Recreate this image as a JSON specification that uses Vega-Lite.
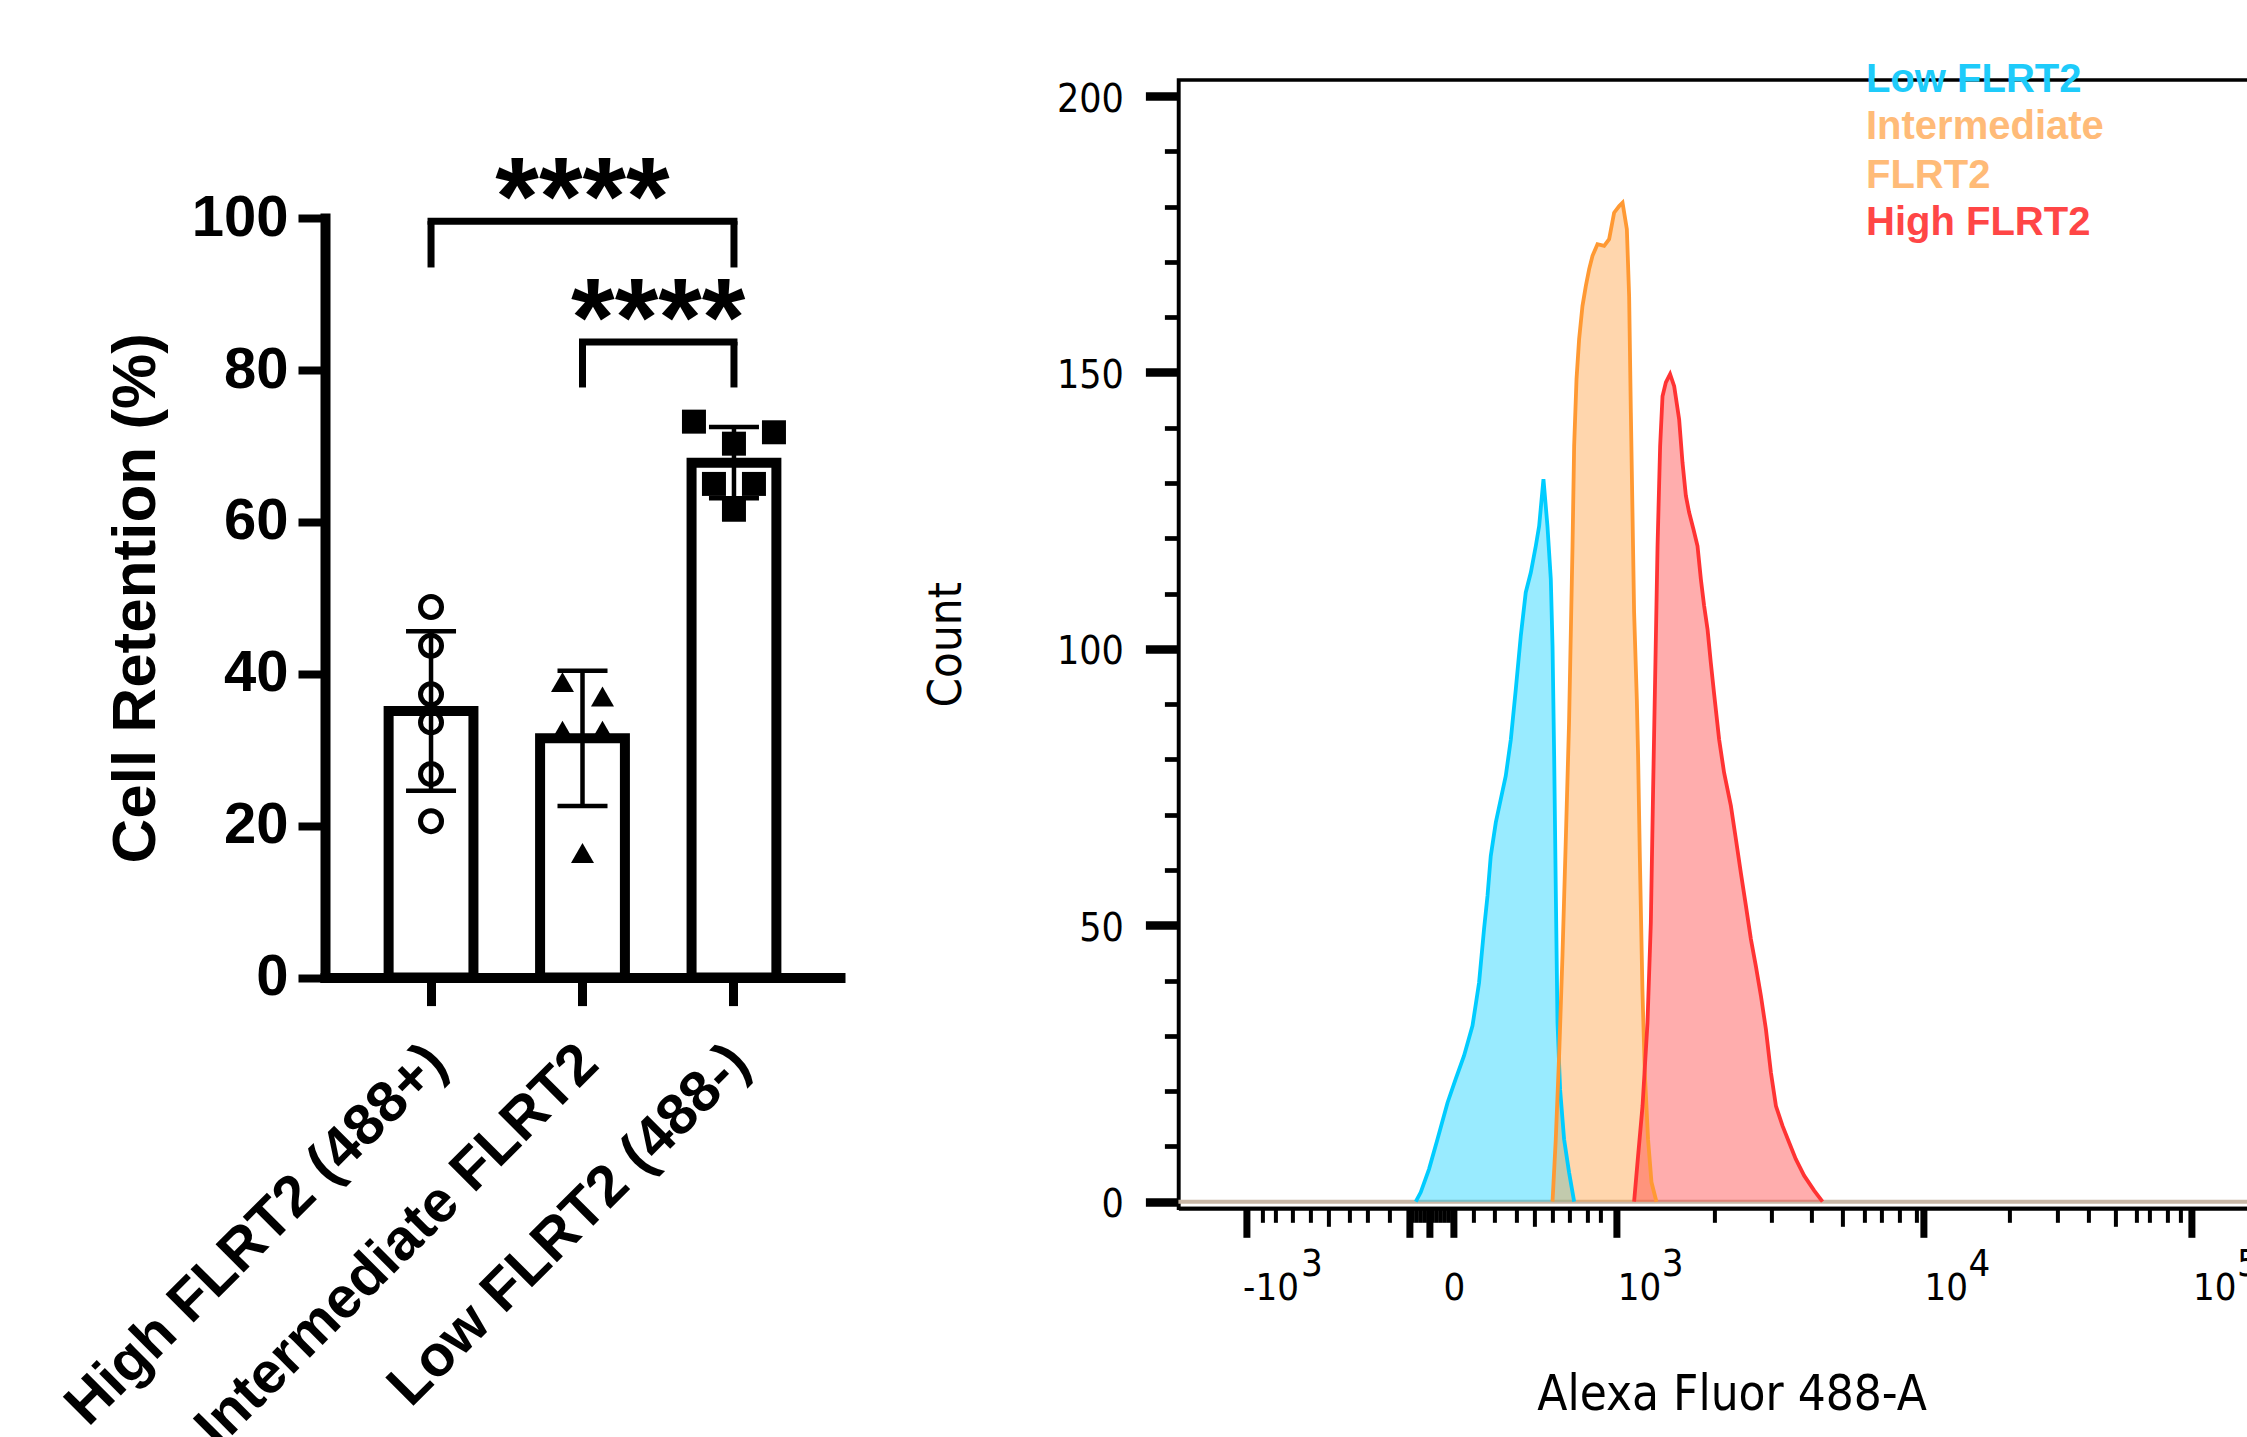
{
  "$schema": "https://vega.github.io/schema/vega-lite/v6.json",
  "background": "white",
  "autosize": {"type": "pad"},
  "padding": {"left": 55, "top": 60, "right": 0, "bottom": 0},
  "bounds": "flush",
  "spacing": 338.4,
  "config": {
    "font": "Liberation Sans",
    "view": {"stroke": null},
    "axis": {"domainColor": "black", "tickColor": "black", "labelColor": "black", "titleColor": "black", "grid": false}
  },
  "datasets": {
    "bars": [
      {"group": "High FLRT2 (488+)", "mean": 35.1, "lo": 24.6, "hi": 45.6},
      {"group": "Intermediate FLRT2", "mean": 31.5, "lo": 22.6, "hi": 40.4},
      {"group": "Low FLRT2 (488-)", "mean": 67.8, "lo": 63.1, "hi": 72.5}
    ],
    "points": [
      {"group": "High FLRT2 (488+)", "spread": 0, "value": 48.8},
      {"group": "High FLRT2 (488+)", "spread": 0, "value": 43.7},
      {"group": "High FLRT2 (488+)", "spread": 0, "value": 37.3},
      {"group": "High FLRT2 (488+)", "spread": 0, "value": 33.6},
      {"group": "High FLRT2 (488+)", "spread": 0, "value": 26.8},
      {"group": "High FLRT2 (488+)", "spread": 0, "value": 20.6},
      {"group": "Intermediate FLRT2", "spread": -1, "value": 38.9},
      {"group": "Intermediate FLRT2", "spread": 1, "value": 37.0},
      {"group": "Intermediate FLRT2", "spread": -1, "value": 32.5},
      {"group": "Intermediate FLRT2", "spread": 1, "value": 32.5},
      {"group": "Intermediate FLRT2", "spread": 0, "value": 16.4},
      {"group": "Low FLRT2 (488-)", "spread": -2, "value": 73.2},
      {"group": "Low FLRT2 (488-)", "spread": 2, "value": 71.8},
      {"group": "Low FLRT2 (488-)", "spread": 0, "value": 70.3},
      {"group": "Low FLRT2 (488-)", "spread": -1, "value": 65.0},
      {"group": "Low FLRT2 (488-)", "spread": 1, "value": 65.0},
      {"group": "Low FLRT2 (488-)", "spread": 0, "value": 61.6}
    ],
    "brackets": [
      {"from": "High FLRT2 (488+)", "to": "Low FLRT2 (488-)", "anchor": "Intermediate FLRT2", "half": 0, "bar": 99.6, "leg": 93.5, "label": "****"},
      {"from": "Intermediate FLRT2", "to": "Low FLRT2 (488-)", "anchor": "Intermediate FLRT2", "half": 0.5, "bar": 83.7, "leg": 77.7, "label": "****"}
    ],
    "hist": [
      {"series": "Low FLRT2", "channel": 219.7, "count": 0},
      {"series": "Low FLRT2", "channel": 224.3, "count": 1.7},
      {"series": "Low FLRT2", "channel": 232.0, "count": 5.9},
      {"series": "Low FLRT2", "channel": 239.8, "count": 11.3},
      {"series": "Low FLRT2", "channel": 249.1, "count": 17.9},
      {"series": "Low FLRT2", "channel": 256.7, "count": 22.2},
      {"series": "Low FLRT2", "channel": 264.4, "count": 26.4},
      {"series": "Low FLRT2", "channel": 272.2, "count": 31.8},
      {"series": "Low FLRT2", "channel": 278.3, "count": 39.6},
      {"series": "Low FLRT2", "channel": 282.9, "count": 49.3},
      {"series": "Low FLRT2", "channel": 286.1, "count": 55.3},
      {"series": "Low FLRT2", "channel": 289.1, "count": 62.5},
      {"series": "Low FLRT2", "channel": 293.8, "count": 68.6},
      {"series": "Low FLRT2", "channel": 298.4, "count": 72.8},
      {"series": "Low FLRT2", "channel": 303.0, "count": 77.0},
      {"series": "Low FLRT2", "channel": 307.7, "count": 83.6},
      {"series": "Low FLRT2", "channel": 312.3, "count": 92.7},
      {"series": "Low FLRT2", "channel": 316.9, "count": 102.3},
      {"series": "Low FLRT2", "channel": 321.5, "count": 110.2},
      {"series": "Low FLRT2", "channel": 326.2, "count": 113.8},
      {"series": "Low FLRT2", "channel": 330.8, "count": 118.6},
      {"series": "Low FLRT2", "channel": 333.9, "count": 122.2},
      {"series": "Low FLRT2", "channel": 337.9, "count": 130.7},
      {"series": "Low FLRT2", "channel": 341.6, "count": 122.2},
      {"series": "Low FLRT2", "channel": 344.7, "count": 112.6},
      {"series": "Low FLRT2", "channel": 346.3, "count": 100.5},
      {"series": "Low FLRT2", "channel": 347.8, "count": 80.6},
      {"series": "Low FLRT2", "channel": 349.3, "count": 56.5},
      {"series": "Low FLRT2", "channel": 350.9, "count": 32.4},
      {"series": "Low FLRT2", "channel": 353.3, "count": 20.3},
      {"series": "Low FLRT2", "channel": 357.0, "count": 11.3},
      {"series": "Low FLRT2", "channel": 361.6, "count": 5.3},
      {"series": "Low FLRT2", "channel": 366.3, "count": 0},
      {"series": "Intermediate FLRT2", "channel": 346.3, "count": 0},
      {"series": "Intermediate FLRT2", "channel": 349.3, "count": 11.3},
      {"series": "Intermediate FLRT2", "channel": 352.4, "count": 26.4},
      {"series": "Intermediate FLRT2", "channel": 355.5, "count": 44.5},
      {"series": "Intermediate FLRT2", "channel": 358.6, "count": 65.6},
      {"series": "Intermediate FLRT2", "channel": 361.6, "count": 86.7},
      {"series": "Intermediate FLRT2", "channel": 364.8, "count": 118.6},
      {"series": "Intermediate FLRT2", "channel": 366.3, "count": 136.7},
      {"series": "Intermediate FLRT2", "channel": 368.5, "count": 148.8},
      {"series": "Intermediate FLRT2", "channel": 370.9, "count": 156.0},
      {"series": "Intermediate FLRT2", "channel": 374.0, "count": 162.0},
      {"series": "Intermediate FLRT2", "channel": 377.1, "count": 165.6},
      {"series": "Intermediate FLRT2", "channel": 380.2, "count": 168.7},
      {"series": "Intermediate FLRT2", "channel": 383.3, "count": 171.1},
      {"series": "Intermediate FLRT2", "channel": 387.9, "count": 173.2},
      {"series": "Intermediate FLRT2", "channel": 394.1, "count": 172.9},
      {"series": "Intermediate FLRT2", "channel": 398.7, "count": 174.1},
      {"series": "Intermediate FLRT2", "channel": 403.3, "count": 178.9},
      {"series": "Intermediate FLRT2", "channel": 408.0, "count": 180.1},
      {"series": "Intermediate FLRT2", "channel": 411.1, "count": 180.7},
      {"series": "Intermediate FLRT2", "channel": 415.1, "count": 175.9},
      {"series": "Intermediate FLRT2", "channel": 417.2, "count": 163.8},
      {"series": "Intermediate FLRT2", "channel": 418.8, "count": 142.7},
      {"series": "Intermediate FLRT2", "channel": 420.3, "count": 124.7},
      {"series": "Intermediate FLRT2", "channel": 421.8, "count": 106.6},
      {"series": "Intermediate FLRT2", "channel": 424.3, "count": 91.0},
      {"series": "Intermediate FLRT2", "channel": 425.5, "count": 80.6},
      {"series": "Intermediate FLRT2", "channel": 427.1, "count": 62.5},
      {"series": "Intermediate FLRT2", "channel": 429.5, "count": 38.4},
      {"series": "Intermediate FLRT2", "channel": 431.7, "count": 23.4},
      {"series": "Intermediate FLRT2", "channel": 434.7, "count": 11.3},
      {"series": "Intermediate FLRT2", "channel": 437.9, "count": 3.5},
      {"series": "Intermediate FLRT2", "channel": 442.5, "count": 0},
      {"series": "High FLRT2", "channel": 421.8, "count": 0},
      {"series": "High FLRT2", "channel": 425.5, "count": 8.3},
      {"series": "High FLRT2", "channel": 429.6, "count": 17.3},
      {"series": "High FLRT2", "channel": 434.2, "count": 32.4},
      {"series": "High FLRT2", "channel": 437.3, "count": 50.5},
      {"series": "High FLRT2", "channel": 439.4, "count": 74.6},
      {"series": "High FLRT2", "channel": 441.0, "count": 91.8},
      {"series": "High FLRT2", "channel": 443.5, "count": 118.6},
      {"series": "High FLRT2", "channel": 445.9, "count": 136.7},
      {"series": "High FLRT2", "channel": 448.1, "count": 145.7},
      {"series": "High FLRT2", "channel": 451.2, "count": 148.2},
      {"series": "High FLRT2", "channel": 455.1, "count": 149.7},
      {"series": "High FLRT2", "channel": 458.9, "count": 147.5},
      {"series": "High FLRT2", "channel": 463.5, "count": 141.5},
      {"series": "High FLRT2", "channel": 466.6, "count": 133.7},
      {"series": "High FLRT2", "channel": 469.7, "count": 127.7},
      {"series": "High FLRT2", "channel": 472.7, "count": 124.7},
      {"series": "High FLRT2", "channel": 476.8, "count": 121.6},
      {"series": "High FLRT2", "channel": 480.5, "count": 118.6},
      {"series": "High FLRT2", "channel": 483.6, "count": 112.6},
      {"series": "High FLRT2", "channel": 486.6, "count": 107.8},
      {"series": "High FLRT2", "channel": 489.8, "count": 103.5},
      {"series": "High FLRT2", "channel": 492.8, "count": 97.5},
      {"series": "High FLRT2", "channel": 495.9, "count": 91.8},
      {"series": "High FLRT2", "channel": 500.5, "count": 83.6},
      {"series": "High FLRT2", "channel": 505.1, "count": 77.6},
      {"series": "High FLRT2", "channel": 511.4, "count": 71.6},
      {"series": "High FLRT2", "channel": 516.0, "count": 65.6},
      {"series": "High FLRT2", "channel": 520.6, "count": 59.5},
      {"series": "High FLRT2", "channel": 525.3, "count": 53.5},
      {"series": "High FLRT2", "channel": 529.9, "count": 47.5},
      {"series": "High FLRT2", "channel": 534.5, "count": 42.6},
      {"series": "High FLRT2", "channel": 539.2, "count": 37.2},
      {"series": "High FLRT2", "channel": 543.8, "count": 31.2},
      {"series": "High FLRT2", "channel": 548.4, "count": 23.4},
      {"series": "High FLRT2", "channel": 553.1, "count": 17.3},
      {"series": "High FLRT2", "channel": 559.2, "count": 13.7},
      {"series": "High FLRT2", "channel": 565.3, "count": 10.7},
      {"series": "High FLRT2", "channel": 571.5, "count": 7.7},
      {"series": "High FLRT2", "channel": 579.2, "count": 4.7},
      {"series": "High FLRT2", "channel": 588.5, "count": 2.0},
      {"series": "High FLRT2", "channel": 596.2, "count": 0}
    ]
  },
  "hconcat": [
    {
      "width": 515,
      "height": 897.6,
      "resolve": {"scale": {"xOffset": "independent"}},
      "layer": [
        {
          "data": {"name": "bars"},
          "mark": {"type": "bar", "fill": "white", "stroke": "black", "strokeWidth": 10},
          "encoding": {
            "x": {
              "field": "group", "type": "nominal",
              "scale": {"domain": ["High FLRT2 (488+)", "Intermediate FLRT2", "Low FLRT2 (488-)"], "paddingInner": 0.44, "paddingOuter": 0.42},
              "axis": {
                "title": null, "domainWidth": 10, "domainCap": "square", "tickSize": 28, "tickWidth": 9,
                "labelAngle": -45, "labelAlign": "right", "labelBaseline": "top", "labelFontSize": 58,
                "labelFontWeight": "bold", "labelPadding": 28, "labelOffset": -14, "labelLimit": 1000
              }
            },
            "y": {
              "field": "mean", "type": "quantitative",
              "scale": {"domain": [0, 100], "range": [897.6, 138.1]},
              "axis": {
                "title": "Cell Retention (%)", "titleFontSize": 62, "titleFontWeight": "bold", "titlePadding": 24,
                "values": [0, 20, 40, 60, 80, 100], "domainWidth": 10, "domainCap": "square",
                "tickSize": 27, "tickWidth": 8, "labelFontSize": 58, "labelFontWeight": "bold", "labelPadding": 10
              }
            }
          }
        },
        {
          "data": {"name": "bars"},
          "mark": {"type": "rule", "strokeWidth": 4.5, "color": "black"},
          "encoding": {
            "x": {"field": "group", "type": "nominal"},
            "y": {"field": "lo", "type": "quantitative"},
            "y2": {"field": "hi"}
          }
        },
        {
          "data": {"name": "bars"},
          "mark": {"type": "tick", "size": 50, "thickness": 4.5, "color": "black", "opacity": 1},
          "encoding": {
            "x": {"field": "group", "type": "nominal"},
            "y": {"field": "lo", "type": "quantitative"}
          }
        },
        {
          "data": {"name": "bars"},
          "mark": {"type": "tick", "size": 50, "thickness": 4.5, "color": "black", "opacity": 1},
          "encoding": {
            "x": {"field": "group", "type": "nominal"},
            "y": {"field": "hi", "type": "quantitative"}
          }
        },
        {
          "data": {"name": "points"},
          "transform": [{"filter": "datum.group === 'High FLRT2 (488+)'"}],
          "mark": {"type": "point", "shape": "circle", "filled": false, "stroke": "black", "strokeWidth": 5, "size": 441, "opacity": 1},
          "encoding": {
            "x": {"field": "group", "type": "nominal"},
            "xOffset": {"field": "spread", "type": "quantitative", "scale": {"domain": [-2, 2], "range": [2.4, 82.4]}},
            "y": {"field": "value", "type": "quantitative"}
          }
        },
        {
          "data": {"name": "points"},
          "transform": [{"filter": "datum.group !== 'High FLRT2 (488+)'"}],
          "mark": {"type": "point", "filled": true, "color": "black", "opacity": 1},
          "encoding": {
            "x": {"field": "group", "type": "nominal"},
            "xOffset": {"field": "spread", "type": "quantitative", "scale": {"domain": [-2, 2], "range": [2.4, 82.4]}},
            "y": {"field": "value", "type": "quantitative"},
            "shape": {"field": "group", "type": "nominal", "scale": {"domain": ["Intermediate FLRT2", "Low FLRT2 (488-)"], "range": ["triangle-up", "square"]}, "legend": null},
            "size": {"field": "group", "type": "nominal", "scale": {"domain": ["Intermediate FLRT2", "Low FLRT2 (488-)"], "range": [530, 576]}, "legend": null}
          }
        },
        {
          "data": {"name": "brackets"},
          "mark": {"type": "rule", "strokeWidth": 7, "color": "black", "strokeCap": "square"},
          "encoding": {
            "x": {"field": "from", "type": "nominal"},
            "x2": {"field": "to"},
            "y": {"field": "bar", "type": "quantitative"}
          }
        },
        {
          "data": {"name": "brackets"},
          "mark": {"type": "rule", "strokeWidth": 7, "color": "black"},
          "encoding": {
            "x": {"field": "from", "type": "nominal"},
            "y": {"field": "leg", "type": "quantitative"},
            "y2": {"field": "bar"}
          }
        },
        {
          "data": {"name": "brackets"},
          "mark": {"type": "rule", "strokeWidth": 7, "color": "black"},
          "encoding": {
            "x": {"field": "to", "type": "nominal"},
            "y": {"field": "leg", "type": "quantitative"},
            "y2": {"field": "bar"}
          }
        },
        {
          "data": {"name": "brackets"},
          "mark": {"type": "text", "fontSize": 112, "fontWeight": "bold", "baseline": "alphabetic", "align": "center", "dy": 14, "color": "black"},
          "encoding": {
            "x": {"field": "anchor", "type": "nominal"},
            "xOffset": {"field": "half", "type": "quantitative", "scale": {"domain": [0, 1], "range": [42.4, 193.9]}},
            "y": {"field": "bar", "type": "quantitative"},
            "text": {"field": "label"}
          }
        }
      ]
    },
    {
      "width": 1106.3,
      "height": 1128.3,
      "view": {"stroke": "black", "strokeWidth": 3.3},
      "resolve": {"axis": {"x": "independent"}},
      "layer": [
        {
          "data": {"values": [{}]},
          "mark": {"type": "rule", "color": "#c8b7a6", "strokeWidth": 4},
          "encoding": {"y": {"datum": 0, "type": "quantitative"}}
        },
        {
          "data": {"name": "hist"},
          "mark": {"type": "area", "opacity": 0.4},
          "encoding": {
            "x": {
              "field": "channel", "type": "quantitative",
              "scale": {"domain": [0, 1024], "nice": false, "zero": false},
              "axis": {
                "orient": "bottom",
                "title": "Alexa Fluor 488-A",
                "titleFont": "DejaVu Sans Condensed, sans-serif",
                "titleFontSize": 49, "titleFontWeight": "normal", "titlePadding": 63,
                "tickCount": 1000,
                "values": [63.1, 77.4, 89.4, 105.5, 122.3, 138.6, 158.7, 175.3, 195.4, 213.5, 216.9, 220.6, 224.3, 228.0, 232.0, 235.5, 239.2, 242.9, 246.6, 250.3, 254.3, 272.9, 292.6, 312.7, 329.9, 345.8, 362.1, 378.7, 390.8, 405.2, 496.4, 549.0, 585.7, 614.4, 635.1, 651.1, 667.0, 683.0, 689.3, 769.0, 813.7, 842.4, 867.0, 887.1, 899.1, 915.1, 927.5, 937.7],
                "domainWidth": 4,
                "tickSize": {"condition": [
                  {"test": "indexof([63.1, 213.5, 232, 254.3, 405.2, 689.3, 937.7], datum.value) >= 0", "value": 29},
                  {"test": "indexof([138.6, 329.9, 614.4, 867], datum.value) >= 0", "value": 18}
                ], "value": 14},
                "tickWidth": {"condition": {"test": "indexof([63.1, 213.5, 232, 254.3, 405.2, 689.3, 937.7], datum.value) >= 0", "value": 7}, "value": 4},
                "labelExpr": "datum.value === 63.1 ? '-10' : datum.value === 232 ? '0' : (datum.value === 405.2 || datum.value === 689.3 || datum.value === 937.7) ? '10' : ''",
                "labelFont": "DejaVu Sans Condensed, sans-serif",
                "labelFontSize": 38, "labelAlign": "left", "labelBaseline": "top",
                "labelOffset": {"condition": [
                  {"test": "datum.value === 63.1", "value": -4},
                  {"test": "datum.value === 232", "value": 14}
                ], "value": 1},
                "labelPadding": 32, "labelOverlap": false, "labelFlush": false, "labelBound": false
              }
            },
            "y": {
              "field": "count", "type": "quantitative", "stack": null,
              "scale": {"domain": [-1.2, 202.9], "nice": false, "zero": false},
              "axis": {
                "title": "Count",
                "titleFont": "DejaVu Sans Condensed, sans-serif",
                "titleFontSize": 47, "titleFontWeight": "normal", "titlePadding": 86,
                "values": [0, 10, 20, 30, 40, 50, 60, 70, 80, 90, 100, 110, 120, 130, 140, 150, 160, 170, 180, 190, 200],
                "format": "d",
                "domainWidth": 3.5,
                "tickSize": {"condition": {"test": "datum.value % 50 === 0", "value": 33}, "value": 14},
                "tickWidth": {"condition": {"test": "datum.value % 50 === 0", "value": 8.7}, "value": 4.7},
                "labelExpr": "datum.value % 50 === 0 ? format(datum.value, 'd') : ''",
                "labelFont": "DejaVu Sans Condensed, sans-serif",
                "labelFontSize": 39, "labelPadding": 22, "labelOffset": 3, "labelOverlap": false, "labelFlush": false
              }
            },
            "color": {
              "field": "series", "type": "nominal",
              "scale": {"domain": ["Low FLRT2", "Intermediate FLRT2", "High FLRT2"], "range": ["#00ccff", "#ff9933", "#ff3333"]},
              "legend": {
                "title": null, "orient": "none", "legendX": 1501, "legendY": -20,
                "padding": 0, "symbolSize": 0, "symbolStrokeWidth": 0, "symbolOpacity": 0, "symbolType": "circle",
                "labelOffset": 0, "rowPadding": 6.7, "labelFontSize": 40, "labelFontWeight": "bold", "labelLimit": 1000,
                "labelExpr": "datum.label === 'Intermediate FLRT2' ? ['Intermediate', 'FLRT2'] : datum.label",
                "encode": {"labels": {"update": {
                  "fill": {"signal": "datum.value === 'Low FLRT2' ? '#1ecbfa' : datum.value === 'High FLRT2' ? '#ff4646' : '#ffbb78'"},
                  "lineHeight": {"value": 49.3}
                }}}
              }
            }
          }
        },
        {
          "data": {"name": "hist"},
          "mark": {"type": "line", "strokeWidth": 3.8},
          "encoding": {
            "x": {
              "field": "channel", "type": "quantitative",
              "axis": {
                "orient": "bottom", "title": null, "domain": false,
                "values": [63.1, 405.2, 689.3, 937.7], "tickCount": 1000,
                "ticks": true, "tickOpacity": 0, "tickSize": 29,
                "labelExpr": "datum.value === 63.1 ? '3' : datum.value === 405.2 ? '3' : datum.value === 689.3 ? '4' : '5'",
                "labelFont": "DejaVu Sans Condensed, sans-serif",
                "labelFontSize": 38, "labelAlign": "left", "labelBaseline": "top",
                "labelOffset": {"condition": {"test": "datum.value === 63.1", "value": 54}, "value": 45},
                "labelPadding": 8, "labelOverlap": false, "labelFlush": false, "labelBound": false
              }
            },
            "y": {"field": "count", "type": "quantitative"},
            "color": {"field": "series", "type": "nominal"}
          }
        }
      ]
    }
  ]
}
